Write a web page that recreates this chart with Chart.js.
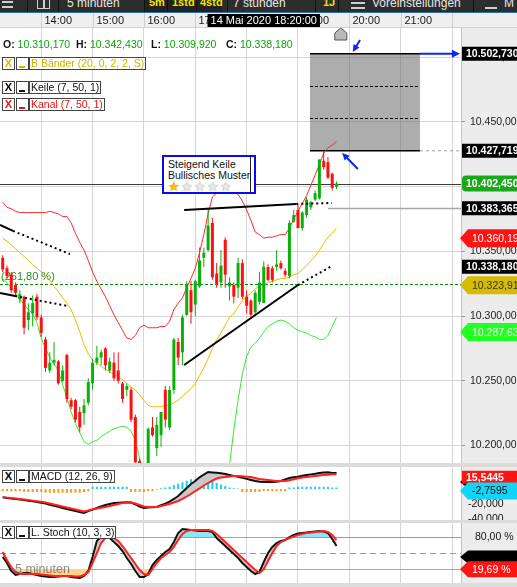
<!DOCTYPE html>
<html lang="de">
<head>
<meta charset="utf-8">
<title>Chart</title>
<script src="https://cdn.jsdelivr.net/npm/chart.js@4.4.1/dist/chart.umd.min.js"></script>
<style>
  html, body { margin: 0; padding: 0; }
  body { position: relative; width: 517px; height: 587px; overflow: hidden; background: #dcdcdc;
         font-family: "Liberation Sans", Arial, sans-serif; }
  canvas { position: absolute; left: 0; }
  #toolbar { position: absolute; left: 0; top: 0; width: 517px; height: 12px; background: #2d2d2d;
             border-bottom: 1px solid #2f6db0; overflow: hidden; }
  #toolbar span { position: absolute; white-space: nowrap; line-height: 12px; }
  #toolbar .big { top: -3px; font-size: 12px; color: #e6e6e6; }
  #toolbar .yel { top: -4px; font-size: 11px; color: #f2e400; font-weight: bold; }
  #toolbar .sep { top: 0; width: 1px; height: 12px; background: #111; }
  #toolbar .dark { top: 0; height: 12px; background: #222; }
  .ohlc { position: absolute; top: 38px; font-size: 10.5px; white-space: nowrap; }
  .ohlc b { color: #111; }
  .ohlc span { color: #0aa60a; }
  .lg { position: absolute; height: 11px; line-height: 11px; border: 1px solid #444; background: #fff;
        font-size: 10.5px; white-space: nowrap; padding: 0 1px; }
  .lg.x { width: 9px; text-align: center; font-weight: bold; font-size: 11px; }
  .lg.u { width: 9px; }
  .lg.u i { position: absolute; left: 2px; bottom: 1px; width: 6px; height: 2px; }
  #note { position: absolute; left: 162px; top: 155px; width: 90px; height: 35px; background: #fff;
          border: 2px solid #0a0af0; font-size: 10.5px; line-height: 11px; color: #111;
          box-shadow: inset -3px 0 0 #fff, inset -4px 0 0 #222; }
  #note div { padding-left: 4px; }
  #note .stars { font-size: 13px; line-height: 12px; letter-spacing: 1px; }
  #note .stars span { color: #e9e9e9; text-shadow: 0 0 1px #777; }
  #note .stars span.on { color: #f4c300; text-shadow: 0 0 1px #a07800; }
  #wm { position: absolute; left: 15px; top: 562px; font-size: 12.5px; color: rgba(80,80,80,0.65); }
</style>
</head>
<body>
<div id="toolbar">
  <span style="left:2px;top:1px;width:11px;height:2px;background:#cfcfcf"></span>
  <span style="left:2px;top:6px;width:11px;height:2px;background:#cfcfcf"></span>
  <span class="sep" style="left:27px"></span>
  <span style="left:37px;top:-4px;width:11px;height:11px;border:1.5px solid #cfcfcf"></span>
  <span style="left:43px;top:-4px;width:1.5px;height:13px;background:#cfcfcf"></span>
  <span class="sep" style="left:58px"></span>
  <span class="big" style="left:67px">5 minuten</span>
  <span class="dark" style="left:144px;width:78px"></span>
  <span class="sep" style="left:144px"></span>
  <span class="yel" style="left:149px">5m</span>
  <span class="sep" style="left:167px"></span>
  <span class="yel" style="left:172px">1std</span>
  <span class="sep" style="left:196px"></span>
  <span class="yel" style="left:200px">4std</span>
  <span class="sep" style="left:227px"></span>
  <span class="big" style="left:233px">7 stunden</span>
  <span class="sep" style="left:315px"></span>
  <span class="yel" style="left:323px">1J</span>
  <span class="sep" style="left:338px"></span>
  <span style="left:351px;top:2px;width:14px;height:2px;background:#cfcfcf"></span>
  <span style="left:351px;top:7px;width:14px;height:2px;background:#cfcfcf"></span>
  <span class="big" style="left:372px">Voreinstellungen</span>
  <span class="sep" style="left:473px"></span>
  <span style="left:485px;top:-2px;width:12px;height:9px;border-bottom:2px solid #cfcfcf"></span>
  <span class="big" style="left:504px">M</span>
</div>

<canvas id="main" width="517" height="450" style="top:13px"></canvas>
<canvas id="macd" width="517" height="53" style="top:467px"></canvas>
<canvas id="stoch" width="517" height="60" style="top:523px"></canvas>

<div class="ohlc" style="left:3px"><b>O:</b> <span id="vO"></span></div>
<div class="ohlc" style="left:76px"><b>H:</b> <span id="vH"></span></div>
<div class="ohlc" style="left:151px"><b>L:</b> <span id="vL"></span></div>
<div class="ohlc" style="left:226px"><b>C:</b> <span id="vC"></span></div>

<div class="lg x" style="left:2px;top:57px;color:#d4b800">X</div>
<div class="lg u" style="left:16px;top:57px"><i style="background:#d4b800"></i></div>
<div class="lg" style="left:29px;top:57px;color:#cdb400">B Bänder (20, 0, 2, 2, S)</div>
<div class="lg x" style="left:2px;top:81px">X</div>
<div class="lg u" style="left:16px;top:81px"><i style="background:#111"></i></div>
<div class="lg" style="left:29px;top:81px;color:#111">Keile (7, 50, 1)</div>
<div class="lg x" style="left:2px;top:98px;color:#f01010">X</div>
<div class="lg u" style="left:16px;top:98px"><i style="background:#f01010"></i></div>
<div class="lg" style="left:29px;top:98px;color:#f01010">Kanal (7, 50, 1)</div>

<div id="note">
  <div style="margin-top:2px">Steigend Keile</div>
  <div>Bullisches Muster</div>
  <div class="stars"><span class="on">★</span><span>★</span><span>★</span><span>★</span><span>★</span></div>
</div>

<div class="lg x" style="left:2px;top:470px">X</div>
<div class="lg u" style="left:16px;top:470px"><i style="background:#111"></i></div>
<div class="lg" style="left:29px;top:470px;color:#111">MACD (12, 26, 9)</div>
<div class="lg x" style="left:2px;top:526px">X</div>
<div class="lg u" style="left:16px;top:526px"><i style="background:#111"></i></div>
<div class="lg" style="left:29px;top:526px;color:#111">L. Stoch (10, 3, 3)</div>
<div id="wm">5 minuten</div>

<script>
const FONT = '"Liberation Sans", Arial, sans-serif';
Chart.defaults.font.family = FONT;

// time axis (index of each 5-minute candle; 0 = 13:15)
const hourTicks = [9, 21, 33, 45, 57, 69, 81, 93, 105];
const hourLabels = ['14:00', '15:00', '16:00', '17:00', '18:00', '19:00', '20:00', '21:00', '22:00'];
const xMin = -0.63, xMax = 107.09;
const crossIdx = 61;
const crossTime = '14 Mai 2020 18:20:00';

// candles
const opens = [10345,10337,10332,10324,10313,10315,10297,10302,10315,10299,
  10282,10258,10264,10265,10250,10270,10235,10235,10226,10225,
  10233,10248,10264,10268,10275,10258,10264,10258,10248,10243,
  10243,10222,10188,10178,10180,10214,10198,10208,10243,10214,
  10243,10280,10272,10301,10320,10309,10323,10345,10351,10372,
  10333,10326,10359,10323,10324,10322,10341,10315,10312,10303,
  10311,10310.17,10338,10337,10338,10341,10335,10331,10373,10382,
  10368,10378,10384,10390,10391,10420,10419,10410,10400];
const highs = [10347,10339,10334,10326,10320,10316,10310,10316,10317,10301,
  10284,10272,10280,10266,10262,10271,10237,10236,10230,10236,
  10252,10267,10277,10274,10276,10268,10272,10272,10249,10248,
  10245,10224,10190,10184,10214,10222,10222,10226,10246,10246,
  10283,10283,10301,10327,10327,10328,10353,10353,10384,10376,
  10341,10351,10361,10330,10326,10345,10344,10320,10313,10320,
  10334,10342.43,10340,10339,10351,10343,10337,10374,10382,10386,
  10381,10392,10389,10397,10421,10427.719,10423,10411,10404];
const lows = [10334,10329,10318,10316,10310,10286,10289,10292,10297,10284,
  10257,10256,10262,10247,10249,10233,10228,10218,10210,10216,
  10231,10243,10262,10262,10258,10256,10250,10248,10233,10238,
  10218,10183,10175,10160,10170,10207,10192,10199,10214,10212,
  10240,10262,10262,10300,10294,10300,10322,10338,10350,10328,
  10322,10322,10322,10312,10310,10314,10313,10302,10299,10300,
  10309,10309.92,10327,10326,10335,10336,10330,10329,10372,10368,
  10366,10376,10382,10389,10390,10413,10406,10397,10398];
const closes = [10336,10331,10320,10318,10317,10291,10303,10310,10299,10287,
  10260,10264,10266,10248,10258,10236,10230,10220,10214,10231,
  10249,10264,10268,10272,10262,10265,10252,10250,10236,10246,
  10220,10187,10180,10168,10213,10208,10216,10226,10220,10243,
  10282,10268,10299,10325,10303,10327,10343,10349,10370,10330,
  10324,10339,10332,10326,10315,10341,10315,10308,10301,10318,
  10326,10338.18,10328,10328,10340,10337,10332,10372,10378,10368,
  10380,10390,10388,10395,10421,10415,10407,10399,10402.45];

// bands
const bandUpper = [10388,10384,10383,10381,10380,10380,10380,10380,10380,10380,
  10380,10381,10380,10379,10377,10377,10372,10364,10357,10351,
  10343,10334,10327,10321,10315,10308,10301,10295,10289,10283,
  10282,10285,10291,10293,10291,10291,10291,10292,10292,10296,
  10305,10310,10314,10322,10329,10337,10349,10363,10379,10392,
  10395,10396,10396,10396,10396,10394,10389,10382,10374,10365,
  10363,10360.19,10361,10361,10362,10363,10363,10368,10375,10381,
  10387,10393,10401,10409,10417,10426,10430,10432,10435];
const bandMid = [10360,10358,10355,10352,10349,10346,10343,10340,10337,10334,
  10331,10328,10323,10319,10314,10310,10305,10297,10288,10278,
  10271,10266,10264,10261,10259,10257,10255,10253,10251,10248,
  10245,10243,10239,10235,10231,10230,10230,10230,10231,10231,
  10233,10235,10238,10241,10244,10248,10254,10260,10267,10275,
  10282,10287,10293,10299,10302,10307,10312,10315,10318,10321,
  10323,10323.91,10326,10327,10328,10329,10329,10330,10332,10333,
  10336,10339,10343,10346,10351,10356,10361,10364,10368];
const bandLower = [10329,10326,10322,10318,10313,10309,10305,10302,10295,10283,
  10275,10268,10263,10258,10247,10237,10226,10217,10210,10203,
  10201,10203,10204,10207,10209,10211,10213,10214,10215,10214,
  10211,10204,10190,10178,10170,10168,10168,10168,10166,10164,
  10160,10159,10160,10160,10159,10158,10158,10157,10155,10158,
  10165,10174,10182,10185,10212,10235,10255,10269,10276,10279,
  10283,10287.63,10292,10294,10296,10297,10296,10294,10291,10289,
  10288,10287,10285,10284,10282,10282,10285,10292,10299];

// wedge lines (index, price)
const wedgeUpper = [[42.4, 10382.0], [68.6, 10386.6]];
const wedgeUpperExt = [[68.6, 10386.6], [76.9, 10387.4]];
const wedgeLower = [[42.4, 10262.2], [69.0, 10324.0]];
const wedgeLowerExt = [[69.0, 10324.0], [76.9, 10338.7]];
const oldUpper = [[-0.63, 10370.4], [2.4, 10365.8]];
const oldUpperExt = [[2.4, 10365.8], [15.7, 10348.0]];
const oldLower = [[-0.63, 10317.9], [2.9, 10315.5]];
const oldLowerExt = [[2.9, 10315.5], [15.2, 10307.8]];

// projection box and levels
const projX = [71.8, 97.5];
const projY = [10502.730, 10427.719];
const fibLevel = 10324.8;
const fibText = '(261,80 %)';
const grayLevel = 10383.365;
const grayFrom = 76;
const arrowDown = [83.5, 10513.4, 81.8, 10504.1];
const arrowUp = [83.0, 10413.7, 79.3, 10426.0];

// right axis tags
const tagValues = [10502.730, 10427.719, 10402.450, 10383.365, 10360.190, 10338.180, 10323.910, 10287.630];
const tagKinds = ['box', 'box', 'round', 'box', 'arrow', 'box', 'arrow', 'arrow'];
const tagColors = ['#000', '#000', '#1aa81a', '#000', '#ff1414', '#000', '#d6bc00', '#22ff22'];
const tagText = ['#fff', '#fff', '#fff', '#fff', '#fff', '#fff', '#333', '#fff'];

// MACD
const macdLine = [-11.1,-12,-12.7,-13.3,-13.9,-14.7,-15.7,-16.5,-17.3,-18.3,
  -19.5,-20.9,-22.4,-23.7,-25.3,-26.7,-28,-29.3,-30.7,-32,
  -29.3,-27.5,-25.3,-23.3,-21.3,-20,-18.7,-18.3,-17.9,-17.6,
  -18,-20.4,-23.3,-25.3,-24.8,-24.4,-24,-21.7,-19.6,-16.7,
  -13.3,-9.3,-4,1.3,6.7,10.7,15.6,19.3,22.7,22.1,
  21.6,21.1,20,18.7,17.5,16.3,14.8,13.5,12.1,10.8,
  9.8,9.4,9.2,9.3,9.6,10.7,12.7,14.7,15.6,16.5,
  17.6,18.7,19.5,20.3,21.3,22,22.3,21.3,21.3];
const macdSignal = [-10.9,-11.5,-12,-12.7,-13.3,-14,-14.7,-15.5,-16.3,-17.1,
  -18.1,-19.3,-20.7,-22,-23.3,-24.7,-26,-27.3,-28.7,-30,
  -28.7,-27.1,-26,-24.9,-23.9,-22.7,-21.3,-20,-18.7,-18,
  -18,-19.3,-21.3,-23.3,-24,-24,-24,-22.7,-21.3,-20,
  -18,-16,-13.3,-10,-6.7,-2.7,0.7,4.7,8,11.3,
  14,15.3,16,16.7,17.3,17.3,16.9,16.4,16,14.7,
  13.3,12.7,12,11.3,10.7,10.7,10.7,11.6,12.9,14.3,
  15.3,16,16.7,17.3,18,18.7,19.1,19.5,19.7];
const macdHist = [-3,-3,-3,-3,-3,-4,-4,-4,-4,-4,
  -5,-5,-5,-5,-5,-5,-5,-5,-5,-4,-3,
  3,3,3,3,3,3,3,3,3,
  -4,-4,-4,-4,-3,-3,
  -1,1,2,
  3,5,7,9,11,13,13,15,15,14,11,8,6,4,2,1,0.5,
  -4,-4,-4,-4,-4,-2.76,-3,-3,-3,-3,-3,
  2,2,3,3,3,3,3,3,3,3,2,2];
const macdTicks = [-40, -20, 0];
const macdTagValues = [9.3, 15.5445, -2.7595];

// Stochastik
const stochK = [42.8,31.4,16.3,8.7,10.6,12.5,12.5,10.6,8.7,6.8,
  5.9,4.9,4.9,5.9,6.8,6.8,4.9,4,3,6.8,
  16.3,42.8,73.1,81.6,81.6,78.7,71.2,63.6,54.1,40.9,
  29.5,16.3,4.9,4.9,10.6,27.6,37.1,44.7,52.2,57.9,
  71.2,88.2,95.8,94.8,93.9,92.9,92,92,92,90.1,
  78.7,71.2,63.6,56,48.5,40.9,31.4,23.8,16.3,10.6,
  14.4,33.3,50.3,61.7,69.3,73.1,75,80.6,84.4,87.3,
  88.2,89.2,90.1,91,92,91,88.2,76.9,63.6];
const stochD = [52.2,37.1,23.8,14.4,10.6,10.6,10.6,10.6,10.6,9.7,
  8.7,7.8,6.8,6.8,6.8,6.8,6.8,5.9,5.9,8.7,
  14.4,31.4,50.3,69.3,78.7,82.5,78.7,73.1,63.6,52.2,
  40.9,29.5,18.2,10.6,8.7,20.1,31.4,40.9,46.6,52.2,
  61.7,75,86.3,92,93.9,93.9,93.9,93.9,93.9,92,
  86.3,78.7,71.2,63.6,56,48.5,40.9,33.3,25.7,18.2,
  12.5,19.69,35.2,50.3,63.6,71.2,75,78.7,81.6,84.4,
  86.3,88.2,89.2,90.1,91,92,90.1,84.4,75];
const stochLevels = [80, 50, 20];
const stochTicks = [80, 20];
const stochTagValues = [43, 19.69];

// helpers
function fmtDe(v, d) {
  const s = Math.abs(v).toFixed(d);
  let [i, f] = s.split('.');
  i = i.replace(/\B(?=(\d{3})+(?!\d))/g, '.');
  return (v < 0 ? '-' : '') + i + (d ? ',' + f : '');
}
const xy = arr => arr.map((v, i) => ({x: i, y: v}));
const pts = arr => arr.map(p => ({x: p[0], y: p[1]}));
const up = i => closes[i] >= opens[i];
const candleColors = closes.map((c, i) => up(i) ? '#0bb00b' : '#ff1010');

document.getElementById('vO').textContent = fmtDe(opens[crossIdx], 3);
document.getElementById('vH').textContent = fmtDe(highs[crossIdx], 3);
document.getElementById('vL').textContent = fmtDe(lows[crossIdx], 3);
document.getElementById('vC').textContent = fmtDe(closes[crossIdx], 3);

const fixAxis = (w) => (s) => { s.width = w; s.paddingTop = 0; s.paddingBottom = 0; };

function xAxis() {
  return {
    type: 'linear', min: xMin, max: xMax, position: 'bottom', offset: false,
    afterBuildTicks: s => { s.ticks = hourTicks.map(v => ({value: v})); },
    ticks: {display: false},
    grid: {color: '#d6d6d6', drawTicks: false, offset: false},
    border: {display: false}
  };
}

const panelBg = {
  id: 'panelBg',
  beforeDraw(chart) {
    const {ctx, chartArea: a, width} = chart;
    ctx.save();
    ctx.fillStyle = '#ffffff';
    ctx.fillRect(a.left, a.top, a.right - a.left, a.bottom - a.top);
    ctx.fillStyle = '#ececec';
    ctx.fillRect(a.right, a.top, width - a.right, a.bottom - a.top);
    ctx.restore();
  }
};

function drawTag(chart, v, kind, bg, fg, text, h) {
  const {ctx, chartArea: a, width} = chart;
  const y = chart.scales.y.getPixelForValue(v);
  ctx.save();
  ctx.fillStyle = bg;
  ctx.beginPath();
  if (kind === 'arrow') {
    ctx.moveTo(a.right - 1, y);
    ctx.lineTo(a.right + 7, y - h / 2);
    ctx.lineTo(width, y - h / 2);
    ctx.lineTo(width, y + h / 2);
    ctx.lineTo(a.right + 7, y + h / 2);
    ctx.closePath();
  } else if (kind === 'round') {
    ctx.roundRect(a.right + 1, y - h / 2, width - a.right + 4, h, 4);
  } else {
    ctx.rect(a.right + 1, y - h / 2, width - a.right, h);
  }
  ctx.fill();
  ctx.fillStyle = fg;
  ctx.font = (kind === 'arrow' ? '' : 'bold ') + '10.5px ' + FONT;
  ctx.textBaseline = 'middle';
  ctx.fillText(text, a.right + (kind === 'arrow' ? 11 : 5), y + 0.5);
  ctx.restore();
}

function arrow(ctx, x0, y0, x1, y1, head) {
  const ang = Math.atan2(y1 - y0, x1 - x0);
  ctx.beginPath();
  ctx.moveTo(x0, y0);
  ctx.lineTo(x1 - Math.cos(ang) * head * 0.8, y1 - Math.sin(ang) * head * 0.8);
  ctx.stroke();
  ctx.beginPath();
  ctx.moveTo(x1, y1);
  ctx.lineTo(x1 - head * Math.cos(ang - 0.45), y1 - head * Math.sin(ang - 0.45));
  ctx.lineTo(x1 - head * Math.cos(ang + 0.45), y1 - head * Math.sin(ang + 0.45));
  ctx.closePath();
  ctx.fill();
}

const mainDecor = {
  id: 'mainDecor',
  beforeDatasetsDraw(chart) {
    const {ctx, chartArea: a, scales: {x, y}} = chart;
    const line = (x0, y0, x1, y1) => { ctx.beginPath(); ctx.moveTo(x0, y0); ctx.lineTo(x1, y1); ctx.stroke(); };
    ctx.save();
    ctx.beginPath(); ctx.rect(a.left, a.top, a.right - a.left, a.bottom - a.top); ctx.clip();
    const bx0 = x.getPixelForValue(projX[0]), bx1 = x.getPixelForValue(projX[1]);
    const by0 = y.getPixelForValue(projY[0]), by1 = y.getPixelForValue(projY[1]);
    ctx.fillStyle = 'rgba(105,105,105,0.55)';
    ctx.fillRect(bx0, by0, bx1 - bx0, by1 - by0);
    ctx.strokeStyle = '#000'; ctx.lineWidth = 1.5;
    line(bx0, by0, bx1, by0); line(bx0, by1, bx1, by1);
    ctx.lineWidth = 1; ctx.setLineDash([3, 2]);
    [1 / 3, 2 / 3].forEach(f => { const yy = Math.round(by0 + (by1 - by0) * f) + 0.5; line(bx0, yy, bx1, yy); });
    ctx.strokeStyle = '#a0a0a0'; ctx.setLineDash([3, 3]);
    line(bx1, by1, a.right, by1);
    // Fibonacci level
    const yf = Math.round(y.getPixelForValue(fibLevel)) + 0.5;
    ctx.strokeStyle = '#0a8a0a'; ctx.lineWidth = 1.2; ctx.setLineDash([3, 2]);
    line(a.left, yf, a.right, yf);
    ctx.setLineDash([]);
    ctx.fillStyle = '#2a8a2a'; ctx.font = '11px ' + FONT; ctx.textBaseline = 'bottom';
    ctx.fillText(fibText, a.left + 1, yf - 2);
    // gray level
    const yg = Math.round(y.getPixelForValue(grayLevel)) + 0.5;
    ctx.strokeStyle = '#a8a8a8'; ctx.lineWidth = 1.5;
    line(x.getPixelForValue(grayFrom), yg, a.right, yg);
    // last price line
    const yl = Math.round(y.getPixelForValue(closes[closes.length - 1])) + 0.5;
    ctx.strokeStyle = '#3a3a3a'; ctx.lineWidth = 1;
    line(a.left, yl, a.right, yl);
    ctx.restore();
  },
  afterDraw(chart) {
    const {ctx, chartArea: a, scales: {x, y}, width} = chart;
    ctx.save();
    // blue arrows
    ctx.strokeStyle = '#1028e6'; ctx.fillStyle = '#1028e6'; ctx.lineWidth = 2;
    const topY = y.getPixelForValue(projY[0]);
    arrow(ctx, x.getPixelForValue(projX[1]), topY, a.right - 1, topY, 9);
    arrow(ctx, x.getPixelForValue(arrowDown[0]), y.getPixelForValue(arrowDown[1]),
      x.getPixelForValue(arrowDown[2]), y.getPixelForValue(arrowDown[3]), 8);
    arrow(ctx, x.getPixelForValue(arrowUp[0]), y.getPixelForValue(arrowUp[1]),
      x.getPixelForValue(arrowUp[2]), y.getPixelForValue(arrowUp[3]), 8);
    // marker of the last bar
    const mx = x.getPixelForValue(closes.length);
    ctx.beginPath();
    ctx.moveTo(mx - 6, a.top + 12); ctx.lineTo(mx - 6, a.top + 5); ctx.lineTo(mx, a.top);
    ctx.lineTo(mx + 6, a.top + 5); ctx.lineTo(mx + 6, a.top + 12); ctx.closePath();
    ctx.fillStyle = '#b9b9b9'; ctx.fill();
    ctx.strokeStyle = '#555'; ctx.lineWidth = 1; ctx.stroke();
    // time band
    ctx.fillStyle = '#efefef'; ctx.fillRect(0, 0, width, a.top);
    ctx.fillStyle = '#d2d2d2'; ctx.fillRect(0, a.top - 1, width, 1);
    ctx.font = '11px ' + FONT; ctx.textBaseline = 'middle';
    hourTicks.forEach((v, k) => {
      const px = Math.round(x.getPixelForValue(v)) + 0.5;
      if (px > a.right) return;
      ctx.fillStyle = '#d0d0d0'; ctx.fillRect(px - 0.5, 0, 1, a.top);
      if (px + 30 < a.right) { ctx.fillStyle = '#1a1a1a'; ctx.fillText(hourLabels[k], px + 3, 8); }
    });
    // crosshair time
    ctx.font = '11px ' + FONT;
    const tw = ctx.measureText(crossTime).width + 6;
    const cx = x.getPixelForValue(crossIdx);
    ctx.fillStyle = '#000'; ctx.fillRect(cx - tw / 2, 1, tw, 13);
    ctx.fillStyle = '#fff'; ctx.textAlign = 'center'; ctx.fillText(crossTime, cx, 8);
    ctx.restore();
    // price tags
    tagValues.forEach((v, k) => drawTag(chart, v, tagKinds[k], tagColors[k], tagText[k], fmtDe(v, 3),
      tagKinds[k] === 'arrow' ? 18 : tagKinds[k] === 'round' ? 16 : 14));
  }
};

const lineDs = (label, data, color, width, order, dash) => ({
  type: 'line', label, data, borderColor: color, borderWidth: width, pointRadius: 0,
  borderDash: dash || [], fill: false, tension: 0, order
});

new Chart(document.getElementById('main'), {
  type: 'bar',
  data: {
    datasets: [
      lineDs('Oberes Band', xy(bandUpper), '#ff2a2a', 1, 5),
      lineDs('Mittellinie', xy(bandMid), '#e2c000', 1, 5),
      lineDs('Unteres Band', xy(bandLower), '#2cf02c', 1, 5),
      {type: 'bar', label: 'Docht', data: lows.map((l, i) => ({x: i, y: [l, highs[i]]})),
        backgroundColor: candleColors, barThickness: 1, grouped: false, inflateAmount: 0, order: 2},
      {type: 'bar', label: 'Körper', data: opens.map((o, i) => ({x: i, y: [o, closes[i]]})),
        backgroundColor: candleColors, barThickness: 3, minBarLength: 1, grouped: false, inflateAmount: 0, order: 1},
      lineDs('Keil oben', pts(wedgeUpper), '#000', 2, 0),
      lineDs('Keil oben', pts(wedgeUpperExt), '#000', 2, 0, [2, 3]),
      lineDs('Keil unten', pts(wedgeLower), '#000', 2, 0),
      lineDs('Keil unten', pts(wedgeLowerExt), '#000', 2, 0, [2, 3]),
      lineDs('Keil alt', pts(oldUpper), '#000', 2, 0),
      lineDs('Keil alt', pts(oldUpperExt), '#000', 2, 0, [2, 3]),
      lineDs('Keil alt', pts(oldLower), '#000', 2, 0),
      lineDs('Keil alt', pts(oldLowerExt), '#000', 2, 0, [2, 3])
    ]
  },
  options: {
    responsive: false, animation: false, events: [],
    layout: {padding: {top: 15, left: 0, right: 0, bottom: 0}},
    plugins: {legend: {display: false}, tooltip: {enabled: false}},
    scales: {
      x: xAxis(),
      y: {
        position: 'right', min: 10186.5, max: 10522.6,
        afterFit: fixAxis(56),
        ticks: {stepSize: 50, includeBounds: false, autoSkip: false, color: '#222', font: {size: 10.5}, padding: 5,
          callback: v => fmtDe(v, 3)},
        grid: {color: '#d6d6d6', tickLength: 4, tickColor: '#9a9a9a'},
        border: {display: true, color: '#c4c4c4'}
      }
    }
  },
  plugins: [panelBg, mainDecor]
});

const macdDecor = {
  id: 'macdDecor',
  afterDraw(chart) {
    drawTag(chart, macdTagValues[0], 'arrow', '#000', '#fff', '', 13);
    drawTag(chart, macdTagValues[1], 'box', '#ff1414', '#fff', fmtDe(macdTagValues[1], 4), 13);
    drawTag(chart, macdTagValues[2], 'arrow', '#12d4f6', '#111', fmtDe(macdTagValues[2], 4), 17);
  }
};

new Chart(document.getElementById('macd'), {
  type: 'bar',
  data: {
    datasets: [
      {type: 'line', label: 'MACD', data: xy(macdLine), borderColor: '#111', borderWidth: 2, pointRadius: 0,
        fill: {target: 1, above: '#c9c9c9', below: '#c9c9c9'}, order: 1},
      {type: 'line', label: 'Signal', data: xy(macdSignal), borderColor: '#ff2020', borderWidth: 2, pointRadius: 0,
        fill: false, order: 0},
      {type: 'bar', label: 'Histogramm', data: xy(macdHist),
        backgroundColor: macdHist.map(v => v >= 0 ? '#1ccbf0' : '#ff9a0a'),
        barThickness: 2, grouped: false, inflateAmount: 0, order: 2}
    ]
  },
  options: {
    responsive: false, animation: false, events: [],
    layout: {padding: 0},
    plugins: {legend: {display: false}, tooltip: {enabled: false}},
    scales: {
      x: xAxis(),
      y: {
        position: 'right', min: -41.33, max: 29.33,
        afterFit: fixAxis(56),
        afterBuildTicks: s => { s.ticks = macdTicks.map(v => ({value: v})); },
        ticks: {autoSkip: false, color: '#111', font: {size: 10.5}, padding: 7, callback: v => fmtDe(v, 3)},
        grid: {display: false, drawTicks: false},
        border: {display: true, color: '#c4c4c4'}
      }
    }
  },
  plugins: [panelBg, macdDecor]
});

const stochDecor = {
  id: 'stochDecor',
  beforeDatasetsDraw(chart) {
    const {ctx, chartArea: a, scales: {y}} = chart;
    const cols = ['#2cc4e6', '#9a9a9a', '#f0a028'];
    ctx.save();
    stochLevels.forEach((v, k) => {
      const yy = Math.round(y.getPixelForValue(v)) + 0.5;
      ctx.strokeStyle = cols[k]; ctx.lineWidth = 1;
      ctx.setLineDash(k === 1 ? [6, 4] : []);
      ctx.beginPath(); ctx.moveTo(a.left, yy); ctx.lineTo(a.right, yy); ctx.stroke();
    });
    ctx.restore();
  },
  afterDraw(chart) {
    drawTag(chart, stochTagValues[0], 'arrow', '#000', '#fff', '', 13);
    drawTag(chart, stochTagValues[1], 'arrow', '#ff1414', '#fff', fmtDe(stochTagValues[1], 2) + ' %', 16);
  }
};

new Chart(document.getElementById('stoch'), {
  type: 'line',
  data: {
    datasets: [
      {label: '%K', data: xy(stochK), borderColor: '#111', borderWidth: 2, pointRadius: 0,
        fill: {target: 1, above: '#c8c8c8', below: '#c8c8c8'}, order: 1},
      {label: '%D', data: xy(stochD), borderColor: '#ff2020', borderWidth: 2, pointRadius: 0, fill: false, order: 0},
      {label: 'Überkauft', data: xy(stochD), borderWidth: 0, pointRadius: 0,
        fill: {target: {value: 80}, above: '#8ce6f6', below: 'rgba(0,0,0,0)'}, order: 5},
      {label: 'Überverkauft', data: xy(stochK), borderWidth: 0, pointRadius: 0,
        fill: {target: {value: 20}, above: 'rgba(0,0,0,0)', below: '#ffd28e'}, order: 5}
    ]
  },
  options: {
    responsive: false, animation: false, events: [],
    layout: {padding: 0},
    plugins: {legend: {display: false}, tooltip: {enabled: false}},
    scales: {
      x: xAxis(),
      y: {
        position: 'right', min: -6.4, max: 107.1,
        afterFit: fixAxis(56),
        afterBuildTicks: s => { s.ticks = stochTicks.map(v => ({value: v})); },
        ticks: {autoSkip: false, color: '#111', font: {size: 10.5}, padding: 14, callback: v => fmtDe(v, 2) + ' %'},
        grid: {display: false, drawTicks: false},
        border: {display: true, color: '#c4c4c4'}
      }
    }
  },
  plugins: [panelBg, stochDecor]
});
</script>
</body>
</html>
